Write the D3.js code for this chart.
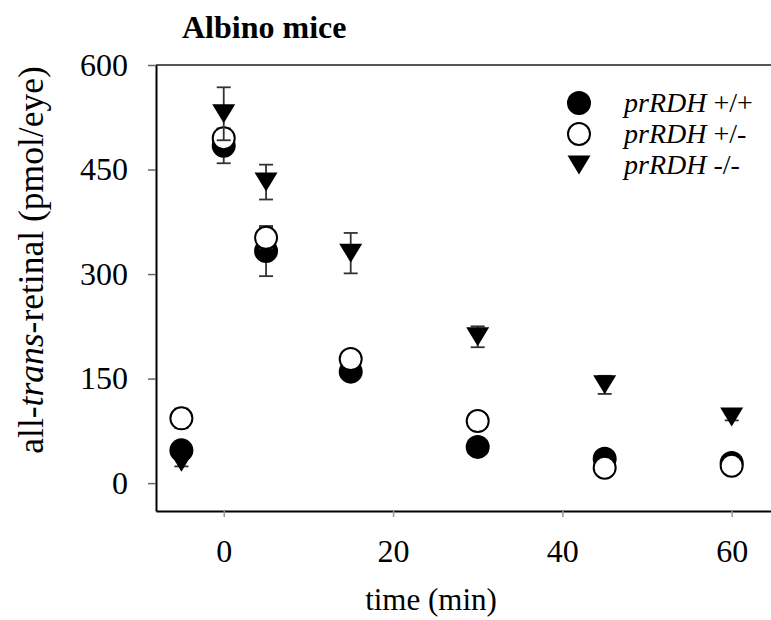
<!DOCTYPE html>
<html>
<head>
<meta charset="utf-8">
<script src="https://cdn.jsdelivr.net/npm/d3@7"></script>
<style>
  body { margin: 0; background: #fff; }
  svg { font-family: "Liberation Serif", "DejaVu Serif", serif; }
</style>
</head>
<body>
<svg id="chart" width="771" height="620"></svg>
<script>
// time points (min)
const time = [-5, 0, 5, 15, 30, 45, 60];

// prRDH +/+
const wt = [47, 484, 333, 160, 52, 35, 29];
const wtErr = [6, 25, 36, 8, 5, 5, 4];
// prRDH +/-
const het = [93, 495, 352, 178, 89, 22, 25];
const hetErr = [14, 13, 15, 8, 6, 4, 4];
// prRDH -/-
const ko = [30, 530, 432, 330, 210, 141, 95];
const koErr = [6, 38, 25, 29, 15, 13, 5];

const yTicks = [0, 150, 300, 450, 600];
const xTicks = [0, 20, 40, 60];

const series = [
  { name: "+/+", values: wt, err: wtErr, shape: "circle", fill: "#000" },
  { name: "+/-", values: het, err: hetErr, shape: "circle", fill: "#fff" },
  { name: "-/-", values: ko, err: koErr, shape: "triangle", fill: "#000" }
];

const svg = d3.select("#chart");

const x = d3.scaleLinear().domain([-8, 65]).range([156, 774]);
const y = d3.scaleLinear().domain([-40, 600]).range([511, 65]);

// frame
svg.append("line")
  .attr("x1", x(-8)).attr("x2", x(65))
  .attr("y1", y(600)).attr("y2", y(600))
  .attr("stroke", "#555").attr("stroke-width", 2);

const yAxis = svg.append("g")
  .attr("transform", `translate(${x(-8)},0)`)
  .call(d3.axisLeft(y).tickValues(yTicks).tickSize(8).tickSizeOuter(0).tickPadding(20));
yAxis.select(".domain").attr("stroke", "#000").attr("stroke-width", 2);
yAxis.selectAll(".tick line").attr("stroke", "#666").attr("stroke-width", 1.5);
yAxis.selectAll(".tick text").attr("font-size", 32).attr("fill", "#000")
  .attr("font-family", "Liberation Serif");

const xAxis = svg.append("g")
  .attr("transform", `translate(0,${y(-40)})`)
  .call(d3.axisBottom(x).tickValues(xTicks).tickSize(6).tickSizeOuter(0).tickPadding(22));
xAxis.select(".domain").attr("stroke", "#000").attr("stroke-width", 2);
xAxis.selectAll(".tick line").attr("stroke", "#999").attr("stroke-width", 1.5);
xAxis.selectAll(".tick text").attr("font-size", 32).attr("fill", "#000")
  .attr("font-family", "Liberation Serif");

// titles
svg.append("text")
  .attr("x", 182).attr("y", 38)
  .attr("font-size", 32).attr("font-weight", "bold")
  .text("Albino mice");

svg.append("text")
  .attr("x", 431).attr("y", 610)
  .attr("text-anchor", "middle")
  .attr("font-size", 31)
  .text("time (min)");

const yl = svg.append("text")
  .attr("transform", "translate(43,260) rotate(-90)")
  .attr("text-anchor", "middle")
  .attr("font-size", 35.5);
yl.append("tspan").text("all-");
yl.append("tspan").attr("font-style", "italic").text("trans");
yl.append("tspan").text("-retinal (pmol/eye)");

const tri = "M-11.5,-9.5L11.5,-9.5L0,9.5Z";

function marker(g, s) {
  if (s.shape === "circle") {
    g.append("circle").attr("r", 11)
      .attr("fill", s.fill).attr("stroke", "#000").attr("stroke-width", 2);
  } else {
    g.append("path").attr("d", tri).attr("fill", s.fill);
  }
}

// data: error bars then markers, series by series
series.forEach(s => {
  const g = svg.append("g");
  const pts = time.map((t, i) => ({ t, v: s.values[i], e: s.err[i] }));

  const eb = g.selectAll(".err").data(pts).enter().append("g")
    .attr("stroke", "#333").attr("stroke-width", 1.8);
  eb.append("line")
    .attr("x1", d => x(d.t)).attr("x2", d => x(d.t))
    .attr("y1", d => y(d.v + d.e)).attr("y2", d => y(d.v - d.e));
  eb.append("line")
    .attr("x1", d => x(d.t) - 7).attr("x2", d => x(d.t) + 7)
    .attr("y1", d => y(d.v + d.e)).attr("y2", d => y(d.v + d.e));
  eb.append("line")
    .attr("x1", d => x(d.t) - 7).attr("x2", d => x(d.t) + 7)
    .attr("y1", d => y(d.v - d.e)).attr("y2", d => y(d.v - d.e));

  g.selectAll(".pt").data(pts).enter().append("g")
    .attr("transform", d => `translate(${x(d.t)},${y(d.v)})`)
    .each(function () { marker(d3.select(this), s); });
});

// legend
const lg = svg.append("g").selectAll("g").data(series).enter().append("g")
  .attr("transform", (d, i) => `translate(579,${103 + i * 31})`);
lg.each(function (s) { marker(d3.select(this), s); });
const lt = lg.append("text").attr("x", 45).attr("y", 9).attr("font-size", 28);
lt.append("tspan").attr("font-style", "italic").text("prRDH");
lt.append("tspan").text(d => " " + d.name);
</script>
</body>
</html>
